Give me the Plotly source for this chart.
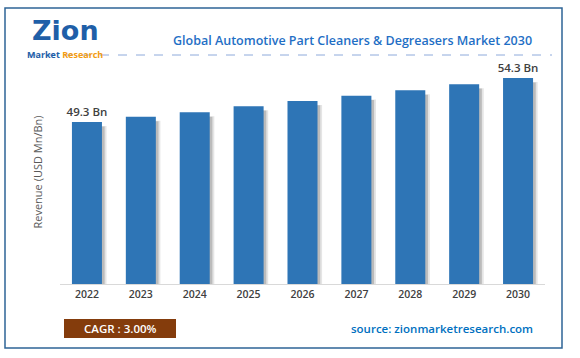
import plotly.graph_objects as go

years = ["2022", "2023", "2024", "2025", "2026", "2027", "2028", "2029", "2030"]
revenue = [49.3, 49.9, 50.4, 51.1, 51.7, 52.3, 52.9, 53.6, 54.3]
bar_labels = ["49.3 Bn", "", "", "", "", "", "", "", "54.3 Bn"]

title_text = "Global Automotive Part Cleaners &amp; Degreasers Market 2030"
y_title = "Revenue (USD Mn/Bn)"
cagr_text = "CAGR : 3.00%"
source_text = "source: zionmarketresearch.com"

FONT = "Open Sans"
BAR = "#2e75b6"

fig = go.Figure()

# soft shadow layers
fig.add_trace(go.Bar(
    x=years, y=[v - 0.45 for v in revenue], width=0.557, offset=-0.2785 + 0.085,
    marker=dict(color="rgba(0,0,0,0.10)", line=dict(width=0)),
    hoverinfo="skip", showlegend=False))
fig.add_trace(go.Bar(
    x=years, y=[v - 0.5 for v in revenue], width=0.557, offset=-0.2785 + 0.05,
    marker=dict(color="rgba(0,0,0,0.18)", line=dict(width=0)),
    hoverinfo="skip", showlegend=False))
fig.add_trace(go.Bar(
    x=years, y=revenue, width=0.557, offset=-0.2785,
    marker=dict(color=BAR, line=dict(width=0)),
    text=bar_labels, textposition="outside", cliponaxis=False, constraintext="none",
    textfont=dict(family=FONT, size=11.5, color="#404040", weight=600),
    showlegend=False))

fig.update_layout(
    width=580, height=358,
    margin=dict(l=60, r=35, t=60, b=74),
    paper_bgcolor="white", plot_bgcolor="white",
    barmode="overlay",
    xaxis=dict(showgrid=False, showline=True, linecolor="#d9d9d9", linewidth=1,
               ticks="", tickfont=dict(family=FONT, size=10.5, color="#404040", weight=600),
               range=[-0.5, 8.5], fixedrange=True),
    yaxis=dict(range=[30.9, 56.35], showgrid=False, showticklabels=False,
               zeroline=False, showline=False,
               title=dict(text=y_title, font=dict(family=FONT, size=11, color="#595959"),
                          standoff=14)),
    font=dict(family=FONT),
)

def dx(px):
    return (px - 60) / 485

def dy(py):
    return (284 - py) / 224

fig.update_layout(shapes=[
    dict(type="rect", xref="x domain", yref="y domain",
         x0=dx(5), x1=dx(562), y0=dy(348), y1=dy(8),
         line=dict(color="#2e6496", width=1.5), fillcolor="rgba(0,0,0,0)", layer="below"),
    dict(type="line", xref="x domain", yref="y domain",
         x0=dx(28), x1=dx(552), y0=dy(55), y1=dy(55),
         line=dict(color="#8eaadb", width=1, dash="dash")),
    dict(type="rect", xref="x domain", yref="y domain",
         x0=dx(64), x1=dx(176), y0=dy(338), y1=dy(319),
         line=dict(width=0), fillcolor="#843c0c"),
])

def ann(text, px, py, size, color, weight=400, xanchor="center", family=FONT):
    fig.add_annotation(text=text, xref="x domain", yref="y domain",
                       x=dx(px), y=dy(py),
                       xanchor=xanchor, yanchor="middle", showarrow=False,
                       font=dict(family=family, size=size, color=color, weight=weight))

ann(title_text, 352, 40, 12.5, "#1f6fc5", 600)
ann(cagr_text, 120, 328.5, 11.5, "white", 600)
ann(source_text, 535, 328.5, 11.5, "#0070c0", 600, xanchor="right")
# logo
ann("Zion", 65, 30.5, 27, "#1f5fa8", 800, family="DejaVu Sans")
ann("<span style='color:#1f5fa8'>Market</span> <span style='color:#f39c12'>Research</span>",
    65, 54, 9, "#1f5fa8", 700)

fig.write_html("out.html", config={"displayModeBar": False},
               post_script="document.body.style.margin='0';")
